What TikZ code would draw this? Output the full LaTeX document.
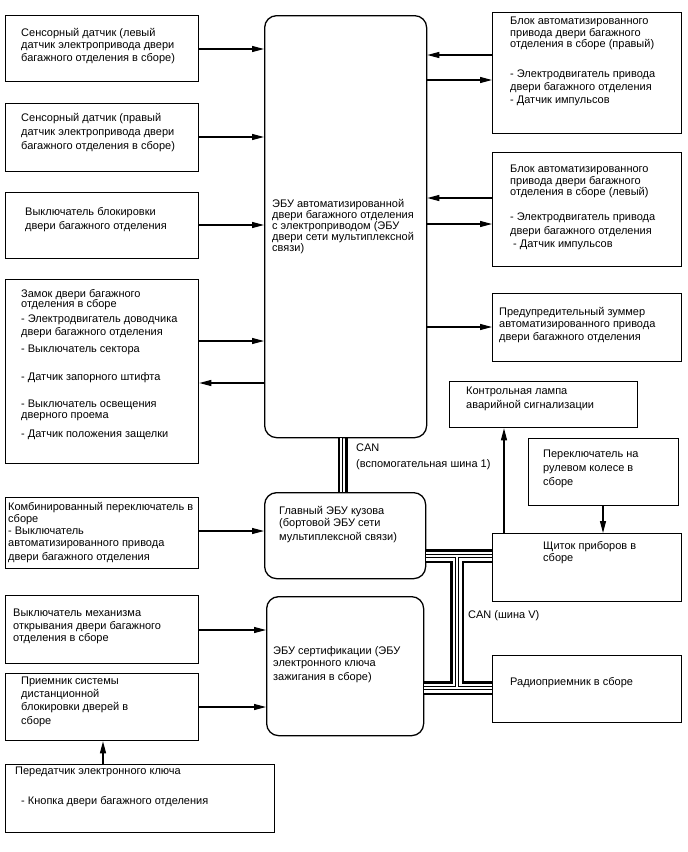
\documentclass[tikz,border=0pt]{standalone}
\usepackage{fontspec}
\setmainfont{Liberation Sans}
\usetikzlibrary{arrows.meta}

\tikzset{
  blk/.style={draw, line width=1.3pt, anchor=north west, inner sep=0pt},
  ecu/.style={blk, rounded corners=12pt},
  txt/.style={anchor=north west, inner sep=0pt, align=left, font=\fontsize{11}{12.5}\selectfont},
  arr/.style={line width=1.2pt, -{Triangle[length=12pt,width=6pt]}},
}

\begin{document}
\begin{tikzpicture}[x=1pt,y=-1pt]
\useasboundingbox (0,0) rectangle (688,852);

% boxes, left column
\node[blk, minimum width=193pt, minimum height=66pt] (l1) at (5,15) {};
\node[blk, minimum width=193pt, minimum height=68pt] (l2) at (5,103) {};
\node[blk, minimum width=193pt, minimum height=66pt] (l3) at (5,192) {};
\node[blk, minimum width=193pt, minimum height=184pt] (l4) at (5,279) {};
\node[blk, minimum width=193pt, minimum height=71pt] (l5) at (5,497) {};
\node[blk, minimum width=193pt, minimum height=68pt] (l6) at (5,595) {};
\node[blk, minimum width=193pt, minimum height=67pt] (l7) at (5,673) {};
\node[blk, minimum width=269pt, minimum height=68pt] (l8) at (5,764) {};

% control units
\node[ecu, minimum width=162pt, minimum height=422pt] (ecu) at (264,15) {};
\node[ecu, minimum width=161pt, minimum height=86pt] (body) at (264,492) {};
\node[ecu, minimum width=157pt, minimum height=139pt] (cert) at (266,596) {};

% boxes, right column
\node[blk, minimum width=189pt, minimum height=121pt] (r1) at (492,12) {};
\node[blk, minimum width=189pt, minimum height=114pt] (r2) at (492,152) {};
\node[blk, minimum width=189pt, minimum height=68pt] (r3) at (492,293) {};
\node[blk, minimum width=188pt, minimum height=46pt] (r4) at (449,381) {};
\node[blk, minimum width=150pt, minimum height=67pt] (r5) at (528,438) {};
\node[blk, minimum width=189pt, minimum height=68pt] (r6) at (492,533) {};
\node[blk, minimum width=189pt, minimum height=67pt] (r7) at (492,655) {};

% texts
\node[txt] (l1t) at (21,28) {Сенсорный датчик (левый\\датчик электропривода двери\\багажного отделения в сборе)};
\node[txt] (l2t) at (21,113) {Сенсорный датчик (правый\\[1.5pt]датчик электропривода двери\\[1.5pt]багажного отделения в сборе)};
\node[txt] (l3t) at (25,207) {Выключатель блокировки\\[1.5pt]двери багажного отделения};
\node[txt] (l4t) at (21,289) {Замок двери багажного\\[-2pt]отделения в сборе\\[2pt]- Электродвигатель доводчика\\[1pt]двери багажного отделения\\[4pt]- Выключатель сектора\\[16pt]- Датчик запорного штифта\\[14pt]- Выключатель освещения\\[-1pt]дверного проема\\[6pt]- Датчик положения защелки};
\node[txt] (l5t) at (8,502) {Комбинированный переключатель в\\сборе\\[-1pt]- Выключатель\\автоматизированного привода\\[1pt]двери багажного отделения};
\node[txt] (l6t) at (13,609) {Выключатель механизма\\открывания двери багажного\\отделения в сборе};
\node[txt] (l7t) at (21,677) {Приемник системы\\дистанционной\\[1pt]блокировки дверей в\\[1pt]сборе};
\node[txt] (l8t) at (15,767) {Передатчик электронного ключа\\[17pt]\hspace{6pt}- Кнопка двери багажного отделения};
\node[txt, font=\fontsize{11}{11}\selectfont] (ecut) at (272,199) {ЭБУ автоматизированной\\двери багажного отделения\\с электроприводом (ЭБУ\\двери сети мультиплексной\\связи)};
\node[txt] (bodyt) at (279,506) {Главный ЭБУ кузова\\(бортовой ЭБУ сети\\[1pt]мультиплексной связи)};
\node[txt] (certt) at (273,646) {ЭБУ сертификации (ЭБУ\\электронного ключа\\[1pt]зажигания в сборе)};
\node[txt] (r1t) at (510,17) {Блок автоматизированного\\[-1pt]привода двери багажного\\[-1pt]отделения в сборе (правый)\\[17.5pt]- Электродвигатель привода\\двери багажного отделения\\[0.5pt]- Датчик импульсов};
\node[txt] (r2t) at (510,165) {Блок автоматизированного\\[-0.5pt]привода двери багажного\\[-1.5pt]отделения в сборе (левый)\\[12.5pt]- Электродвигатель привода\\[1.5pt]двери багажного отделения\\[0.5pt]\hspace{3pt}- Датчик импульсов};
\node[txt] (r3t) at (499,307) {Предупредительный зуммер\\[-0.5pt]автоматизированного привода\\[1pt]двери багажного отделения};
\node[txt] (r4t) at (466,387) {Контрольная лампа\\[1pt]аварийной сигнализации};
\node[txt] (r5t) at (543,450) {Переключатель на\\[1.5pt]рулевом колесе в\\[1pt]сборе};
\node[txt] (r6t) at (543,541) {Щиток приборов в\\сборе};
\node[txt] (r7t) at (510,677) {Радиоприемник в сборе};
\node[txt] (can1) at (356,444) {CAN\\[3pt](вспомогательная шина 1)};
\node[txt] (can2) at (468,610) {CAN (шина V)};

% signal arrows
\draw[arr] (l1.east |- 0,49) -- (ecu.west |- 0,49);
\draw[arr] (l2.east |- 0,137) -- (ecu.west |- 0,137);
\draw[arr] (l3.east |- 0,225) -- (ecu.west |- 0,225);
\draw[arr] (l4.east |- 0,341) -- (ecu.west |- 0,341);
\draw[arr] (ecu.west |- 0,383) -- (l4.east |- 0,383);
\draw[arr] (r1.west |- 0,55) -- (ecu.east |- 0,55);
\draw[arr] (ecu.east |- 0,80) -- (r1.west |- 0,80);
\draw[arr] (r2.west |- 0,198) -- (ecu.east |- 0,198);
\draw[arr] (ecu.east |- 0,224) -- (r2.west |- 0,224);
\draw[arr] (ecu.east |- 0,327) -- (r3.west |- 0,327);
\draw[arr] (l5.east |- 0,531) -- (body.west |- 0,531);
\draw[arr] (l6.east |- 0,630) -- (cert.west |- 0,630);
\draw[arr] (l7.east |- 0,707) -- (cert.west |- 0,707);
\draw[arr] (l8.north -| 103,0) -- (l7.south -| 103,0);
\draw[arr] (r5.south -| 603,0) -- (r6.north -| 603,0);
\draw[arr] (r6.north -| 504,0) -- (r4.south -| 504,0);

% CAN buses
\coordinate (vtop) at (457,556);
\coordinate (vbot) at (457,688);
\draw[line width=4.5pt] ([xshift=-5pt]ecu.south) -- ([xshift=-5pt]ecu.south |- body.north);
\draw[line width=2pt, white] ([xshift=-5pt]ecu.south) -- ([xshift=-5pt]ecu.south |- body.north);
\draw[line width=2.5pt] ([xshift=1pt]ecu.south) -- ([xshift=1pt]ecu.south |- body.north);
\foreach \w/\c in {14/black, 9/white, 4.5/black, 2/white}{
  \draw[line width=\w pt, \c] (body.east |- vtop) -- (r6.west |- vtop);
  \draw[line width=\w pt, \c] (vtop) -- (vbot);
  \draw[line width=\w pt, \c] (cert.east |- vbot) -- (r7.west |- vbot);
}
\end{tikzpicture}
\end{document}
